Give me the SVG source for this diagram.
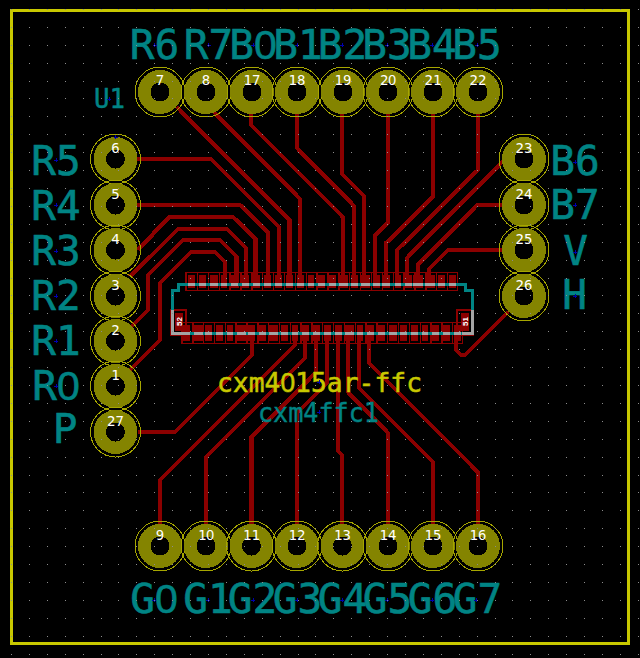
<svg xmlns="http://www.w3.org/2000/svg" width="640" height="658" viewBox="0 0 640 658" shape-rendering="crispEdges">
<style>
.tr{fill:none;stroke:#8b0000;stroke-width:4.2;stroke-linejoin:miter}
.ring{fill:none;stroke:#a6a600;stroke-width:1}
.pad{fill:#848400}
.hole{fill:#000}
.num{font-family:"DejaVu Sans Mono",monospace;font-size:14px;fill:#fff;text-anchor:middle}
.lab{font-family:"DejaVu Sans Mono",monospace;font-size:41px;fill:#008484;stroke:#008484;stroke-width:.6;text-anchor:middle}
.z{font-family:"Liberation Sans",sans-serif}
.fp{fill:none;stroke:#8b0000;stroke-width:1.4}
.fill{fill:none;stroke:#8b0000}
.silk{fill:none;stroke:#008484;stroke-width:3}
.grey{fill:none;stroke:#a4a4a4;stroke-width:3}
</style>
<rect width="640" height="658" fill="#000"/>
<rect id="board-edge" x="11.5" y="10.5" width="617" height="633" fill="none" stroke="#c8c800" stroke-width="3"/>
<g id="footprint-pads">
<rect class="fp" x="186" y="272.5" width="271.7" height="18"/>
<line class="fp" x1="186" y1="281.5" x2="458" y2="281.5" style="stroke-width:18;stroke-dasharray:1.4 9.47"/>
<line class="fill" x1="188" y1="281.5" x2="456" y2="281.5" style="stroke-width:13;stroke-dasharray:6.8 4.07"/>
<path fill="#8b0000" d="M210 275h8v13h-8zM339 275h9v13h-9zM361 275h9v13h-9zM382 275h8v13h-8zM413 275h9v13h-9zM425 275h10v13h-10z"/>
<rect class="fp" x="181.3" y="322.5" width="281.5" height="21"/>
<line class="fp" x1="181.3" y1="333" x2="463" y2="333" style="stroke-width:21;stroke-dasharray:1.4 9.43"/>
<line class="fill" x1="183.3" y1="333" x2="461" y2="333" style="stroke-width:16;stroke-dasharray:6.8 4.03"/>
<path fill="#8b0000" d="M194 325h9v16h-9zM238 325h8v16h-8zM269 325h9v16h-9zM345 325h9v16h-9zM389 325h8v16h-8z"/>
<rect class="fp" x="171" y="310" width="15" height="25"/>
<rect x="175" y="313" width="8" height="18" fill="#8b0000"/>
<rect class="fp" x="457" y="310" width="16" height="25"/>
<rect x="461" y="313" width="8" height="18" fill="#8b0000"/>
</g>
<g id="connectors">
<path class="tr" d="M138 250L169 217H233L255.500 239V288"/>
<path class="tr" d="M130 277L178 229H227L246 248V288"/>
<path class="tr" d="M131 327L148 310V275L183 240H220L236.500 256.500V288"/>
<path class="tr" d="M130 370L160 340V283L191 252H215L225 262V288"/>
<path class="tr" d="M137 205H240L268 232V288"/>
<path class="tr" d="M137 159H211L279 227V288"/>
<path class="tr" d="M177 107L289.500 220V288"/>
<path class="tr" d="M214 112L300 199V288"/>
<path class="tr" d="M251 112V125L343 217V288"/>
<path class="tr" d="M297 112V148L354 206V288"/>
<path class="tr" d="M342 112V174L364 196V288"/>
<path class="tr" d="M388 112V223L375 235V288"/>
<path class="tr" d="M433 112V197L386 243V288"/>
<path class="tr" d="M478 112V170L397 250V288"/>
<path class="tr" d="M503 161L407 258V288"/>
<path class="tr" d="M503 205H477L418 265V288"/>
<path class="tr" d="M503 250H448L429 269V288"/>
<path class="tr" d="M508 312L465 355H461L456 350V326"/>
<path class="tr" d="M138 432H175L252 355V326"/>
<path class="tr" d="M160 526V480L295 345V326"/>
<path class="tr" d="M206 526V457L305 358V326"/>
<path class="tr" d="M251.500 526V437L316 372V326"/>
<path class="tr" d="M297 526V413L327 383V326"/>
<path class="tr" d="M342 526V455L338 451V326"/>
<path class="tr" d="M388 526V433L348 392V326"/>
<path class="tr" d="M433 526V462L359 388V326"/>
<path class="tr" d="M478 526V472L369 363V326"/>
</g>
<g id="cxm4ffc1">
<path class="silk" d="M178.500 284.500H465.500V290.500H472.500V333H172.500V290.500H178.500Z"/>
<line class="grey" x1="188" y1="284.5" x2="456" y2="284.5" style="stroke-dasharray:6.8 4.07"/>
<line class="grey" x1="183.3" y1="333" x2="461" y2="333" style="stroke-dasharray:6.8 4.03"/>
<path fill="#a4a4a4" d="M210 283h8v3h-8zM339 283h9v3h-9zM361 283h9v3h-9zM382 283h8v3h-8zM413 283h9v3h-9zM425 283h10v3h-10zM194 331.500h9v3h-9zM238 331.500h8v3h-8zM269 331.500h9v3h-9zM345 331.500h9v3h-9zM389 331.500h8v3h-8z"/>
<path class="grey" d="M172.500 310V333H183M472.500 310V333H462" />
<text x="182" y="321.500" transform="rotate(-90 182 321.500)" font-family="Liberation Sans,sans-serif" font-size="8" font-weight="700" fill="#fff" text-anchor="middle">52</text>
<text x="468" y="321.500" transform="rotate(-90 468 321.500)" font-family="Liberation Sans,sans-serif" font-size="8" font-weight="700" fill="#fff" text-anchor="middle">51</text>
<text x="217" y="392" font-family="DejaVu Sans Mono,monospace" font-size="27" fill="#c8c800" stroke="#c8c800" stroke-width=".5" textLength="205" lengthAdjust="spacingAndGlyphs">cxm4<tspan class="z">0</tspan>15ar-ffc</text>
<text x="258" y="422" font-family="DejaVu Sans Mono,monospace" font-size="27" fill="#008484" stroke="#008484" stroke-width=".4" textLength="121" lengthAdjust="spacingAndGlyphs">cxm4ffc1</text>
<text x="94" y="108" font-family="DejaVu Sans Mono,monospace" font-size="27" fill="#008484" stroke="#008484" stroke-width=".5" textLength="31" lengthAdjust="spacingAndGlyphs">U1</text>
</g>
<g id="pad-6"><circle class="ring" cx="115.500" cy="159" r="25"/><circle class="pad" cx="115.500" cy="159" r="22"/><circle class="hole" cx="115.500" cy="159" r="9.500"/><text class="num" x="115.500" y="153">6</text><text class="lab" x="56" y="175">R5</text></g>
<g id="pad-5"><circle class="ring" cx="115.500" cy="205" r="25"/><circle class="pad" cx="115.500" cy="205" r="22"/><circle class="hole" cx="115.500" cy="205" r="9.500"/><text class="num" x="115.500" y="199">5</text><text class="lab" x="56" y="220">R4</text></g>
<g id="pad-4"><circle class="ring" cx="115.500" cy="250" r="25"/><circle class="pad" cx="115.500" cy="250" r="22"/><circle class="hole" cx="115.500" cy="250" r="9.500"/><text class="num" x="115.500" y="244">4</text><text class="lab" x="56" y="265">R3</text></g>
<g id="pad-3"><circle class="ring" cx="115.500" cy="296" r="25"/><circle class="pad" cx="115.500" cy="296" r="22"/><circle class="hole" cx="115.500" cy="296" r="9.500"/><text class="num" x="115.500" y="290">3</text><text class="lab" x="56" y="310">R2</text></g>
<g id="pad-2"><circle class="ring" cx="115.500" cy="341" r="25"/><circle class="pad" cx="115.500" cy="341" r="22"/><circle class="hole" cx="115.500" cy="341" r="9.500"/><text class="num" x="115.500" y="335">2</text><text class="lab" x="56" y="355">R1</text></g>
<g id="pad-1"><circle class="ring" cx="115.500" cy="386" r="25"/><circle class="pad" cx="115.500" cy="386" r="22"/><circle class="hole" cx="115.500" cy="386" r="9.500"/><text class="num" x="115.500" y="380">1</text><text class="lab" x="56" y="400">R<tspan class="z">0</tspan></text></g>
<g id="pad-27"><circle class="ring" cx="115.500" cy="432" r="25"/><circle class="pad" cx="115.500" cy="432" r="22"/><circle class="hole" cx="115.500" cy="432" r="9.500"/><text class="num" x="115.500" y="426">27</text><text class="lab" x="65" y="443">P</text></g>
<g id="pad-7"><circle class="ring" cx="160" cy="92" r="25"/><circle class="pad" cx="160" cy="92" r="22"/><circle class="hole" cx="160" cy="92" r="9.500"/><text class="num" x="160" y="85">7</text><text class="lab" x="154.500" y="59">R6</text></g>
<g id="pad-8"><circle class="ring" cx="206" cy="92" r="25"/><circle class="pad" cx="206" cy="92" r="22"/><circle class="hole" cx="206" cy="92" r="9.500"/><text class="num" x="206" y="85">8</text><text class="lab" x="208.500" y="59">R7</text></g>
<g id="pad-17"><circle class="ring" cx="252" cy="92" r="25"/><circle class="pad" cx="252" cy="92" r="22"/><circle class="hole" cx="252" cy="92" r="9.500"/><text class="num" x="252" y="85">17</text><text class="lab" x="253" y="59">B<tspan class="z">0</tspan></text></g>
<g id="pad-18"><circle class="ring" cx="297" cy="92" r="25"/><circle class="pad" cx="297" cy="92" r="22"/><circle class="hole" cx="297" cy="92" r="9.500"/><text class="num" x="297" y="85">18</text><text class="lab" x="298" y="59">B1</text></g>
<g id="pad-19"><circle class="ring" cx="343" cy="92" r="25"/><circle class="pad" cx="343" cy="92" r="22"/><circle class="hole" cx="343" cy="92" r="9.500"/><text class="num" x="343" y="85">19</text><text class="lab" x="342.500" y="59">B2</text></g>
<g id="pad-20"><circle class="ring" cx="388" cy="92" r="25"/><circle class="pad" cx="388" cy="92" r="22"/><circle class="hole" cx="388" cy="92" r="9.500"/><text class="num" x="388" y="85">2<tspan class="z">0</tspan></text><text class="lab" x="387" y="59">B3</text></g>
<g id="pad-21"><circle class="ring" cx="433" cy="92" r="25"/><circle class="pad" cx="433" cy="92" r="22"/><circle class="hole" cx="433" cy="92" r="9.500"/><text class="num" x="433" y="85">21</text><text class="lab" x="432" y="59">B4</text></g>
<g id="pad-22"><circle class="ring" cx="478" cy="92" r="25"/><circle class="pad" cx="478" cy="92" r="22"/><circle class="hole" cx="478" cy="92" r="9.500"/><text class="num" x="478" y="85">22</text><text class="lab" x="477" y="59">B5</text></g>
<g id="pad-23"><circle class="ring" cx="524" cy="159" r="25"/><circle class="pad" cx="524" cy="159" r="22"/><circle class="hole" cx="524" cy="159" r="9.500"/><text class="num" x="524" y="153">23</text><text class="lab" x="575" y="175">B6</text></g>
<g id="pad-24"><circle class="ring" cx="524" cy="205" r="25"/><circle class="pad" cx="524" cy="205" r="22"/><circle class="hole" cx="524" cy="205" r="9.500"/><text class="num" x="524" y="199">24</text><text class="lab" x="575" y="219">B7</text></g>
<g id="pad-25"><circle class="ring" cx="524" cy="250" r="25"/><circle class="pad" cx="524" cy="250" r="22"/><circle class="hole" cx="524" cy="250" r="9.500"/><text class="num" x="524" y="244">25</text><text class="lab" x="575.500" y="265">V</text></g>
<g id="pad-26"><circle class="ring" cx="524" cy="296" r="25"/><circle class="pad" cx="524" cy="296" r="22"/><circle class="hole" cx="524" cy="296" r="9.500"/><text class="num" x="524" y="290">26</text><text class="lab" x="574.500" y="309">H</text></g>
<g id="pad-9"><circle class="ring" cx="160" cy="546" r="25"/><circle class="pad" cx="160" cy="546" r="22"/><circle class="hole" cx="160" cy="546" r="9.500"/><text class="num" x="160" y="540">9</text><text class="lab" x="154" y="613">G<tspan class="z">0</tspan></text></g>
<g id="pad-10"><circle class="ring" cx="206" cy="546" r="25"/><circle class="pad" cx="206" cy="546" r="22"/><circle class="hole" cx="206" cy="546" r="9.500"/><text class="num" x="206" y="540">1<tspan class="z">0</tspan></text><text class="lab" x="208" y="613">G1</text></g>
<g id="pad-11"><circle class="ring" cx="251.500" cy="546" r="25"/><circle class="pad" cx="251.500" cy="546" r="22"/><circle class="hole" cx="251.500" cy="546" r="9.500"/><text class="num" x="251.500" y="540">11</text><text class="lab" x="252.500" y="613">G2</text></g>
<g id="pad-12"><circle class="ring" cx="297" cy="546" r="25"/><circle class="pad" cx="297" cy="546" r="22"/><circle class="hole" cx="297" cy="546" r="9.500"/><text class="num" x="297" y="540">12</text><text class="lab" x="297.500" y="613">G3</text></g>
<g id="pad-13"><circle class="ring" cx="342.500" cy="546" r="25"/><circle class="pad" cx="342.500" cy="546" r="22"/><circle class="hole" cx="342.500" cy="546" r="9.500"/><text class="num" x="342.500" y="540">13</text><text class="lab" x="342.500" y="613">G4</text></g>
<g id="pad-14"><circle class="ring" cx="388" cy="546" r="25"/><circle class="pad" cx="388" cy="546" r="22"/><circle class="hole" cx="388" cy="546" r="9.500"/><text class="num" x="388" y="540">14</text><text class="lab" x="387.500" y="613">G5</text></g>
<g id="pad-15"><circle class="ring" cx="433" cy="546" r="25"/><circle class="pad" cx="433" cy="546" r="22"/><circle class="hole" cx="433" cy="546" r="9.500"/><text class="num" x="433" y="540">15</text><text class="lab" x="432.500" y="613">G6</text></g>
<g id="pad-16"><circle class="ring" cx="478" cy="546" r="25"/><circle class="pad" cx="478" cy="546" r="22"/><circle class="hole" cx="478" cy="546" r="9.500"/><text class="num" x="478" y="540">16</text><text class="lab" x="477.500" y="613">G7</text></g>
<path id="anchors" fill="none" stroke="#0000b0" stroke-width="1" d="M152.500 45h4m-2-2v4M206.500 45h4m-2-2v4M251 45h4m-2-2v4M295 45h4m-2-2v4M340 45h4m-2-2v4M385 45h4m-2-2v4M430 45h4m-2-2v4M475 45h4m-2-2v4M54 160h4m-2-2v4M54 205h4m-2-2v4M54 251h4m-2-2v4M54 296h4m-2-2v4M54 341h4m-2-2v4M54 386h4m-2-2v4M573 162h4m-2-2v4M573 205h4m-2-2v4M573 252h4m-2-2v4M573 296h4m-2-2v4M152 600h4m-2-2v4M206 600h4m-2-2v4M251 600h4m-2-2v4M295 600h4m-2-2v4M340 600h4m-2-2v4M385 600h4m-2-2v4M430 600h4m-2-2v4M474 600h4m-2-2v4M317 382h4m-2-2v4M317 412h4m-2-2v4M107 99h4m-2-2v4M113.500 137h4m-2-2v4"/>
<path id="grid" fill="none" stroke="#8c8c8c" stroke-width="1" stroke-dasharray="1 16.91" d="M11 9.500H640M11 27.500H640M11 45.500H640M11 63.500H640M11 81.500H640M11 98.500H640M11 116.500H640M11 134.500H640M11 152.500H640M11 170.500H640M11 188.500H640M11 206.500H640M11 224.500H640M11 242.500H640M11 260.500H640M11 278.500H640M11 295.500H640M11 313.500H640M11 331.500H640M11 349.500H640M11 367.500H640M11 385.500H640M11 403.500H640M11 421.500H640M11 439.500H640M11 457.500H640M11 475.500H640M11 492.500H640M11 510.500H640M11 528.500H640M11 546.500H640M11 564.500H640M11 582.500H640M11 600.500H640M11 618.500H640M11 636.500H640M11 654.500H640"/>
</svg>
